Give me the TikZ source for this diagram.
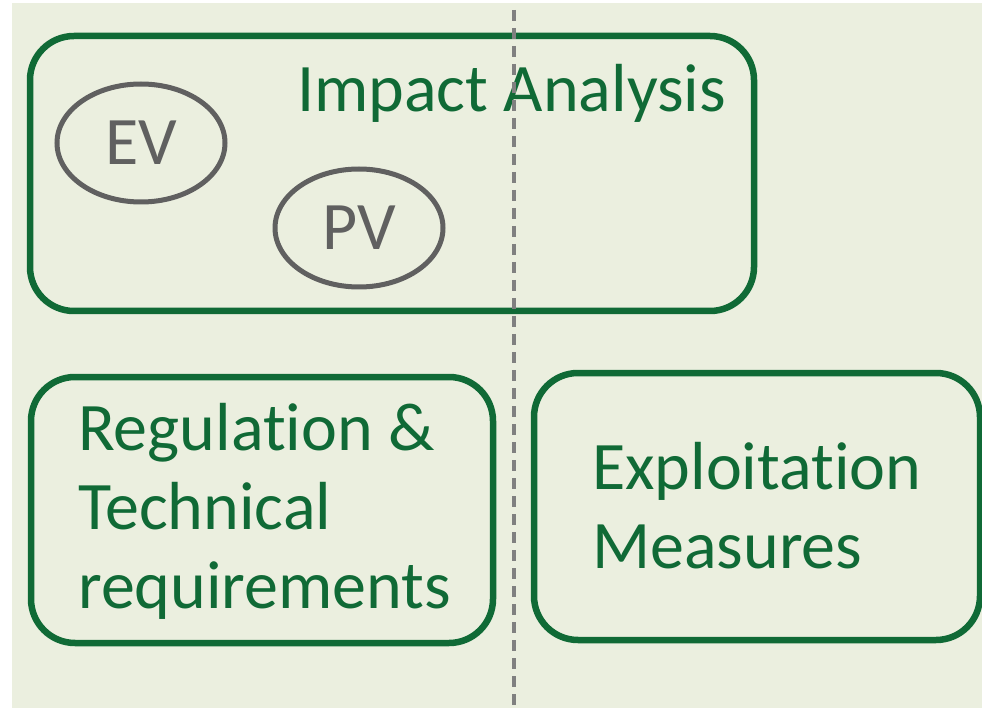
\documentclass[tikz,border=0pt]{standalone}
\usepackage{fontspec}
\setmainfont{Carlito}[Ligatures=NoCommon]
\usepackage{xcolor}
\usetikzlibrary{shapes.geometric}

\definecolor{boxgreen}{RGB}{16,106,54}
\definecolor{bgpaper}{RGB}{235,239,223}
\definecolor{ringgray}{RGB}{96,96,96}
\definecolor{splitgray}{RGB}{128,128,128}

\begin{document}
\begin{tikzpicture}[x=1pt, y=-1pt,
    area/.style={draw=boxgreen, line width=6.5pt, rounded corners=44pt, inner sep=0pt},
    areatext/.style={text=boxgreen, font=\fontsize{68}{79}\selectfont, inner sep=0pt, anchor=base west, align=left},
    vehicle/.style={ellipse, draw=ringgray, line width=5pt, text=ringgray, font=\fontsize{68}{79}\selectfont, inner sep=0pt, minimum width=168pt, minimum height=118pt}]
      \useasboundingbox (0,0) rectangle (982,708);

      % Paper
      \fill[bgpaper] (12,3) rectangle (982,708);

      % Impact box
      \node[area, minimum width=724pt, minimum height=275pt] (impact) at (392,173.5) {};
      \node[areatext] (impacttext) at (297,112) {Impact Analysis};
      \node[vehicle] (ev) at (141,143) {EV};
      \node[vehicle] (pv) at (359,228) {PV};

      % Lower boxes (base anchor = last line)
      \node[area, minimum width=462pt, minimum height=266pt] (regulation) at (262,510) {};
      \node[areatext] (regtext) at (78,608) {Regulation \&\\Technical\\requirements};
      \node[area, minimum width=446pt, minimum height=267pt] (exploit) at (757,506.5) {};
      \node[areatext] (exptext) at (592,568) {Exploitation\\Measures};

      % Split line
      \coordinate (splittop) at (514,10);
      \coordinate (splitbottom) at (514,708);
      \draw[splitgray, line width=4pt, dash pattern=on 11pt off 7pt] (splittop) -- (splitbottom);
    \end{tikzpicture}
\end{document}
